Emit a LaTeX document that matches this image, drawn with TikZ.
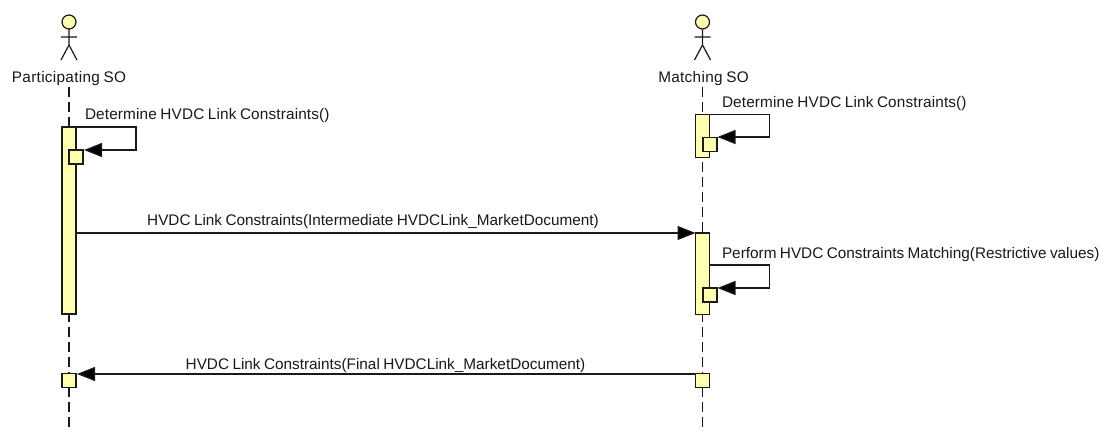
\documentclass[tikz,border=0pt]{standalone}
\usepackage{fontspec}
\setmainfont{Liberation Sans}[WordSpace=0.8]
\usetikzlibrary{arrows.meta}
\definecolor{umlfill}{HTML}{FFFFB0}
\definecolor{umlline}{HTML}{1A1A1A}
\tikzset{
  x=0.75pt,y=-0.75pt,
  every node/.style={inner sep=0pt,outer sep=0pt},
  lbl/.style={font=\fontsize{11.5pt}{13pt}\selectfont,text=black!90,anchor=base},
  lifeline/.style={draw=umlline,line width=0.9pt,dash pattern=on 7.5pt off 3.75pt},
  actorline/.style={draw=umlline,line width=0.9pt},
  actorhead/.style={circle,draw=umlline,fill=umlfill,line width=0.9pt,minimum size=10.5pt},
  activation/.style={rectangle,draw=umlline,fill=umlfill,line width=0.9pt,minimum width=10.5pt},
  msg/.style={draw=umlline,line width=0.9pt,-{Triangle[length=13.5pt,width=10.5pt,fill=black]},shorten >=0.75pt}
}
\begin{document}
\begin{tikzpicture}
\useasboundingbox (0,0) rectangle (1104,432);
\fill[white] (0,0) rectangle (1104,432);
% lifelines
\coordinate (ltop) at (69,87); \coordinate (lbot) at (69,432);
\coordinate (rtop) at (702.5,87); \coordinate (rbot) at (702.5,432);
\draw[lifeline] (ltop) -- (lbot);
\draw[lifeline] (rtop) -- (rbot);
% actors
\foreach \nm/\x in {l/69,r/702.5}{
  \node[actorhead] (\nm head) at (\x,22) {};
  \coordinate (\nm hip) at (\x,45);
  \coordinate (\nm al) at (\x-8,37); \coordinate (\nm ar) at (\x+8,37);
  \coordinate (\nm fl) at (\x-8,60); \coordinate (\nm fr) at (\x+8,60);
  \draw[actorline] (\nm head.south) -- (\nm hip) (\nm al) -- (\nm ar) (\nm fl) -- (\nm hip) -- (\nm fr);
}
\node[lbl] (ltitle) at (69,82) {\addfontfeature{LetterSpace=2}Participating SO};
\node[lbl] (rtitle) at (703.5,82) {\addfontfeature{LetterSpace=2}Matching SO};
% activations
\node[activation,minimum height=140.25pt] (la) at (69,220.5) {};
\node[activation,minimum height=31.9pt] (ra1) at (702.5,136) {};
\node[activation,minimum height=61.1pt] (ra2) at (702.5,273.7) {};
\node[activation,minimum height=10.5pt] (ll) at (69,380.5) {};
\node[activation,minimum height=10.5pt] (rl) at (702.5,380.5) {};
% nested
\node[activation,minimum height=10.5pt] (ln) at (76,157) {};
\node[activation,minimum height=10.5pt] (rn1) at (710,144.5) {};
\node[activation,minimum height=10.5pt] (rn2) at (710,295) {};
% corners of self messages
\coordinate (c1a) at (136,127); \coordinate (c1b) at (136,150);
\coordinate (c2a) at (769.5,114.5); \coordinate (c2b) at (769.5,137);
\coordinate (c3a) at (769.5,265); \coordinate (c3b) at (769.5,288);
\coordinate (s1) at (76,127); \coordinate (e1) at (83,150);
\coordinate (s2) at (709.5,114.5); \coordinate (e2) at (716.5,137);
\coordinate (s3) at (709.5,265); \coordinate (e3) at (716.5,288);
\draw[msg] (s1) -- (c1a) -- (c1b) -- (e1);
\draw[msg] (s2) -- (c2a) -- (c2b) -- (e2);
\draw[msg] (s3) -- (c3a) -- (c3b) -- (e3);
% messages
\coordinate (m1s) at (76,233); \coordinate (m1e) at (695.5,233);
\coordinate (m2s) at (695.5,374); \coordinate (m2e) at (76,374);
\draw[msg,shorten >=0pt] (m1s) -- (m1e);
\draw[msg] (m2s) -- (m2e);
% labels
\node[lbl,anchor=base west] (t1) at (85,119) {\addfontfeature{LetterSpace=1}Determine HVDC Link Constraints()};
\node[lbl,anchor=base west] (t2) at (722,107) {\addfontfeature{LetterSpace=1}Determine HVDC Link Constraints()};
\node[lbl,anchor=base west] (t3) at (722,258) {Perform HVDC Constraints Matching(Restrictive values)};
\node[lbl] (t4) at (373,225) {HVDC Link Constraints(Intermediate HVDCLink\_MarketDocument)};
\node[lbl] (t5) at (385.5,369) {HVDC Link Constraints(Final HVDCLink\_MarketDocument)};
\end{tikzpicture}
\end{document}
